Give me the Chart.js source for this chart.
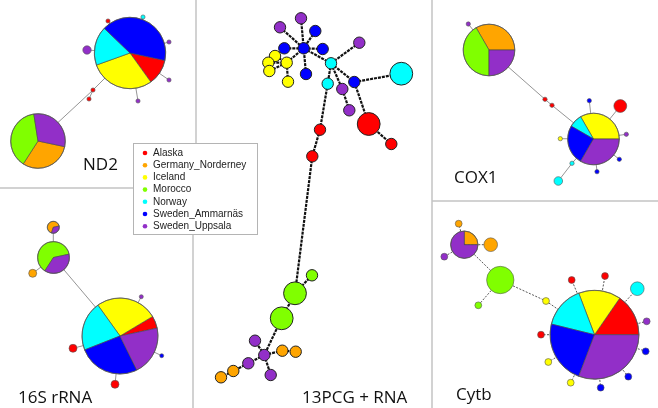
<!DOCTYPE html>
<html>
<head>
<meta charset="utf-8">
<script src="https://cdn.jsdelivr.net/npm/chart.js@4/dist/chart.umd.min.js"></script>
<style>
  html, body { margin: 0; padding: 0; background: #fff; }
  #wrap { width: 658px; height: 408px; }
</style>
</head>
<body>
<div id="wrap"><canvas id="net" width="658" height="408"></canvas></div>
<script>
const popNames = ['Alaska', 'Germany_Norderney', 'Iceland', 'Morocco', 'Norway', 'Sweden_Ammarnäs', 'Sweden_Uppsala'];
const popColors = ['#ff0000', '#ffa500', '#ffff00', '#80ff00', '#00ffff', '#0000ff', '#922fc8'];

// haplotype made of one population only
function solo(pop, n) {
    const c = [0, 0, 0, 0, 0, 0, 0];
    c[pop] = n || 1;
    return c;
}

// ND2
const nd2X = [130, 38, 108, 143, 169, 169, 138, 87, 93, 89];
const nd2Y = [53, 141, 21, 17, 42, 80, 101, 50, 90, 99];
const nd2Haps = [
    [2, 0, 5, 0, 3, 7, 0], [0, 4, 0, 5, 0, 0, 4],
    solo(0), solo(4), solo(6), solo(6), solo(6), solo(6, 2), solo(0), solo(0)
];
const nd2Links = [[0, 2], [0, 3], [0, 4], [0, 5], [0, 6], [0, 7], [0, 8], [8, 1], [8, 9]];

// 16S rRNA
const s16X = [120, 53.5, 53.3, 141.3, 161.7, 115, 73, 32.7];
const s16Y = [336, 257.5, 227.3, 296.7, 355.7, 384.3, 348.3, 273.3];
const s16Haps = [
    [1, 0, 5, 0, 4, 5, 4], [0, 0, 0, 5, 0, 0, 3], [0, 2, 0, 0, 0, 0, 1],
    solo(6), solo(5), solo(0, 2), solo(0, 2), solo(1, 2)
];
const s16Links = [[0, 1], [1, 2], [1, 7], [0, 3], [0, 4], [0, 5], [0, 6]];

// 13PCG + RNA
const pcgX = [301, 280, 315.3, 303.7, 284.3, 322.7, 359.3, 275, 268.3, 286.7, 269.3, 288, 306, 331, 401.3, 354.3, 327.7,
    342.3, 349.3, 368.7, 391.3, 320, 312.3, 312, 295, 281.7, 255, 264.3, 282.3, 295.7, 248.3, 233.3, 221, 270.7];
const pcgY = [18.3, 27.3, 31, 48.3, 48.3, 49, 42.7, 56, 62.7, 62.7, 71, 81.7, 74, 63.3, 73.7, 82, 83.7,
    89, 110.3, 124, 144, 129.7, 156.3, 275.3, 293.3, 318.3, 340.7, 355, 350.7, 351.7, 363.3, 371, 377.3, 375];
const pcgHaps = [
    solo(6), solo(6), solo(5), solo(5), solo(5), solo(5), solo(6), solo(2), solo(2), solo(2), solo(2), solo(2), solo(5),
    solo(4), solo(4, 2), solo(5), solo(4), solo(6), solo(6), solo(0, 2), solo(0), solo(0), solo(0),
    solo(3), solo(3, 2), solo(3, 2), solo(6), solo(6), solo(1), solo(1), solo(6), solo(1), solo(1), solo(6)
];
const pcgLinks = [[1, 3], [0, 3], [2, 3], [4, 3], [5, 3], [12, 3], [3, 13], [6, 13], [9, 3], [7, 9], [8, 9], [10, 9],
    [11, 9], [13, 15], [15, 14], [15, 19], [19, 20], [13, 16], [13, 17], [17, 18], [16, 21], [21, 22], [22, 24],
    [23, 24], [24, 25], [25, 27], [27, 26], [27, 28], [28, 29], [27, 30], [30, 31], [31, 32], [27, 33]];

// COX1
const coxX = [489, 593.5, 468.3, 545, 552, 589.3, 620.3, 626.3, 619.3, 597, 560.3, 572, 558.3];
const coxY = [50, 139, 24, 99.3, 105.3, 100.7, 106, 134.3, 159.3, 171.7, 138.7, 163.3, 181];
const coxHaps = [
    [0, 4, 0, 5, 0, 0, 3], [0, 0, 4, 0, 1, 3, 4],
    solo(6), solo(0), solo(0), solo(5), solo(0, 3), solo(6), solo(5), solo(5), solo(2), solo(4), solo(4, 2)
];
const coxLinks = [[0, 2], [0, 3], [3, 4], [4, 1], [1, 5], [1, 6], [1, 7], [1, 8], [1, 9], [1, 10], [1, 11], [11, 12]];

// Cytb
const cytX = [594.5, 464.3, 500.3, 546, 571.7, 605, 637.3, 646.7, 645.7, 628.3, 600.7, 570.7, 548.3, 541, 478.3, 490.7, 458.7, 444.3];
const cytY = [334.7, 244.7, 280, 301, 280, 276, 288.7, 321.3, 351.3, 376.7, 387.7, 382.7, 362, 334.7, 305.3, 244.7, 223.7, 256.7];
const cytHaps = [
    [2, 0, 2, 0, 2, 3, 4], [0, 1, 0, 0, 0, 0, 3],
    solo(3, 4), solo(2), solo(0), solo(0), solo(4, 2), solo(6), solo(5), solo(5), solo(5), solo(2), solo(2), solo(0),
    solo(3), solo(1, 2), solo(1), solo(6)
];
const cytLinks = [[1, 2], [2, 3], [3, 0], [2, 14], [1, 15], [1, 16], [1, 17], [0, 4], [0, 5], [0, 6], [0, 7], [0, 8],
    [0, 9], [0, 10], [0, 11], [0, 12], [0, 13]];

// panel frame segments
const frameX = [196, 196, 0, 133, 193, 193, 432, 432, 432, 658];
const frameY = [0, 143, 188, 188, 234, 408, 0, 408, 201, 201];

const thinEdge = { color: '#7a7a7a', width: 0.8, dash: [] };
const panels = [
    { label: 'ND2', lx: 83, ly: 170, x: nd2X, y: nd2Y, haps: nd2Haps, links: nd2Links, unit: 2.1, start: 12, cw: true, edge: thinEdge, rim: '#555', rimW: 0.6 },
    { label: '16S rRNA', lx: 18, ly: 403, x: s16X, y: s16Y, haps: s16Haps, links: s16Links, unit: 2, start: -12, cw: false, edge: thinEdge, rim: '#555', rimW: 0.6 },
    { label: '13PCG + RNA', lx: 302, ly: 403, x: pcgX, y: pcgY, haps: pcgHaps, links: pcgLinks, unit: 5.7, start: 0, cw: false, edge: { color: '#111', width: 2.2, dash: [3, 1] }, rim: '#222', rimW: 1 },
    { label: 'COX1', lx: 454, ly: 183, x: coxX, y: coxY, haps: coxHaps, links: coxLinks, unit: 2.15, start: 0, cw: false, edge: thinEdge, rim: '#555', rimW: 0.6 },
    { label: 'Cytb', lx: 456, ly: 400, x: cytX, y: cytY, haps: cytHaps, links: cytLinks, unit: 3.42, start: 0, cw: false, edge: { color: '#444', width: 0.9, dash: [2, 1.5] }, rim: '#555', rimW: 0.6 }
];

function total(c) { return c.reduce((a, b) => a + b, 0); }
function isPie(c) { return c.filter(v => v > 0).length > 1; }

const datasets = [];
panels.forEach(p => {
    const edgePts = [];
    p.links.forEach(([a, b]) => {
        edgePts.push({ x: p.x[a], y: p.y[a] }, { x: p.x[b], y: p.y[b] }, { x: null, y: null });
    });
    datasets.push({
        data: edgePts, showLine: true, spanGaps: false, pointRadius: 0, clip: false,
        borderColor: p.edge.color, borderWidth: p.edge.width, borderDash: p.edge.dash, order: 5
    });
    const pts = [], radii = [], fills = [];
    p.haps.forEach((c, i) => {
        if (isPie(c)) return;
        pts.push({ x: p.x[i], y: p.y[i] });
        radii.push(p.unit * total(c));
        fills.push(popColors[c.findIndex(v => v > 0)]);
    });
    datasets.push({
        data: pts, pointRadius: radii, pointBackgroundColor: fills, pointBorderColor: p.rim,
        pointBorderWidth: p.rimW, clip: false, order: 1
    });
});
const framePts = [];
for (let i = 0; i < frameX.length; i += 2) {
    framePts.push({ x: frameX[i], y: frameY[i] }, { x: frameX[i + 1], y: frameY[i + 1] }, { x: null, y: null });
}
datasets.push({ data: framePts, showLine: true, spanGaps: false, pointRadius: 0, clip: false, borderColor: '#c4c4c4', borderWidth: 1.5, order: 9 });

const piePlugin = {
    id: 'pies',
    afterDatasetsDraw(chart) {
        const ctx = chart.ctx;
        const sx = chart.scales.x, sy = chart.scales.y;
        const k = sx.getPixelForValue(1) - sx.getPixelForValue(0);
        panels.forEach(p => {
            p.haps.forEach((c, i) => {
                if (!isPie(c)) return;
                const cx = sx.getPixelForValue(p.x[i]), cy = sy.getPixelForValue(p.y[i]);
                const n = total(c), r = p.unit * n * k;
                let a = p.start * Math.PI / 180;
                ctx.save();
                c.forEach((v, pop) => {
                    if (!v) return;
                    const sweep = v / n * 2 * Math.PI * (p.cw ? 1 : -1);
                    ctx.beginPath();
                    ctx.moveTo(cx, cy);
                    ctx.arc(cx, cy, r, a, a + sweep, !p.cw);
                    ctx.closePath();
                    ctx.fillStyle = popColors[pop];
                    ctx.fill();
                    ctx.strokeStyle = '#444';
                    ctx.lineWidth = 0.6;
                    ctx.stroke();
                    a += sweep;
                });
                ctx.beginPath();
                ctx.arc(cx, cy, r, 0, 2 * Math.PI);
                ctx.strokeStyle = p.rim;
                ctx.lineWidth = 0.7;
                ctx.stroke();
                ctx.restore();
            });
            ctx.save();
            ctx.font = '17px "Open Sans"';
            ctx.fillStyle = '#111';
            ctx.textAlign = 'left';
            ctx.textBaseline = 'alphabetic';
            ctx.fillText(p.label, sx.getPixelForValue(p.lx), sy.getPixelForValue(p.ly));
            ctx.restore();
        });

        // legend box
        const x0 = sx.getPixelForValue(133), y0 = sy.getPixelForValue(143);
        const x1 = sx.getPixelForValue(257), y1 = sy.getPixelForValue(234);
        ctx.save();
        ctx.fillStyle = '#fff';
        ctx.fillRect(x0, y0, x1 - x0, y1 - y0);
        ctx.strokeStyle = '#b4b4b4';
        ctx.lineWidth = 1;
        ctx.strokeRect(x0 + 0.5, y0 + 0.5, x1 - x0, y1 - y0);
        ctx.font = '10px "Liberation Sans", Arial, sans-serif';
        ctx.textBaseline = 'middle';
        popNames.forEach((name, i) => {
            const yy = y0 + 10 + i * 12.2;
            ctx.beginPath();
            ctx.arc(x0 + 12, yy, 2.3, 0, 2 * Math.PI);
            ctx.fillStyle = popColors[i];
            ctx.fill();
            ctx.fillStyle = '#222';
            ctx.fillText(name, x0 + 20, yy);
        });
        ctx.restore();
    }
};

new Chart(document.getElementById('net'), {
    type: 'scatter',
    data: { datasets: datasets },
    options: {
        responsive: false,
        animation: false,
        events: [],
        layout: { padding: 0, autoPadding: false },
        scales: {
            x: { type: 'linear', min: 0, max: 658, display: false },
            y: { type: 'linear', min: 0, max: 408, reverse: true, display: false }
        },
        plugins: { legend: { display: false }, tooltip: { enabled: false } }
    },
    plugins: [piePlugin]
});
</script>
</body>
</html>
